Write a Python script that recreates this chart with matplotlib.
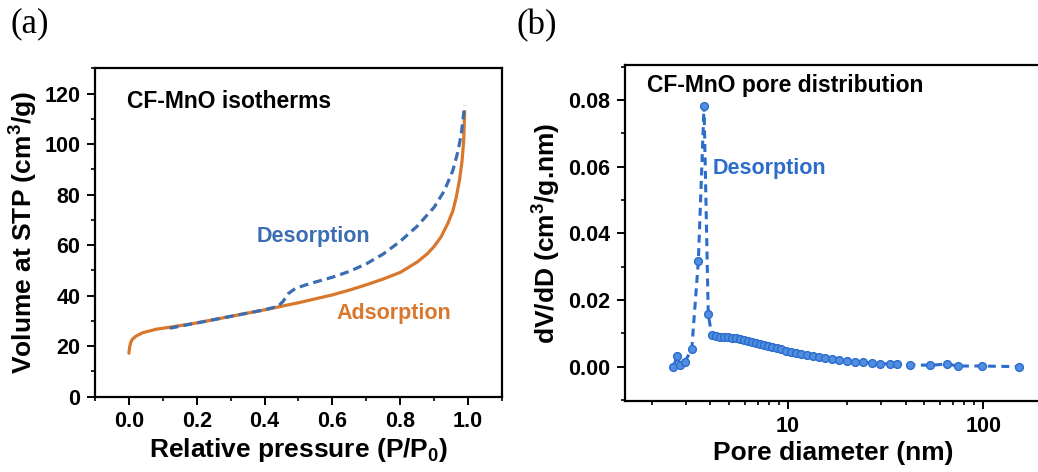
import matplotlib
matplotlib.use("Agg")
import matplotlib.pyplot as plt
from matplotlib.ticker import MultipleLocator, LogLocator, NullFormatter, FixedLocator

plt.rcParams['font.family'] = ['Liberation Sans', 'DejaVu Sans']
plt.rcParams['font.weight'] = 'bold'
plt.rcParams['mathtext.fontset'] = 'custom'
plt.rcParams['mathtext.rm'] = 'Liberation Sans:bold'
plt.rcParams['mathtext.it'] = 'Liberation Sans:bold'
plt.rcParams['mathtext.bf'] = 'Liberation Sans:bold'

# (a) isotherms
ads_p = [0.0, 0.002, 0.005, 0.01, 0.02, 0.04, 0.08, 0.13, 0.2, 0.3, 0.4, 0.5, 0.6, 0.65,
         0.7, 0.75, 0.8, 0.85, 0.88, 0.9, 0.92, 0.94, 0.955, 0.965, 0.975, 0.982, 0.987,
         0.99]
ads_v = [17.2, 19.5, 21.3, 22.7, 23.9, 25.3, 26.7, 27.7, 29.2, 31.8, 34.4, 37.2, 40.3,
         42.2, 44.3, 46.6, 49.2, 53.3, 56.6, 59.5, 63.2, 68.5, 73.5, 78.8, 86.0, 93.0,
         101.0, 112.8]
des_p = [0.12, 0.2, 0.3, 0.4, 0.44, 0.455, 0.47, 0.49, 0.52, 0.55, 0.6, 0.65, 0.7, 0.75,
         0.8, 0.85, 0.9, 0.93, 0.955, 0.97, 0.98, 0.99]
des_v = [27.1, 29.2, 31.8, 34.4, 35.8, 37.8, 40.8, 42.8, 44.2, 45.4, 47.3, 49.6, 52.6,
         56.5, 61.5, 67.5, 75.0, 81.5, 89.5, 97.0, 104.0, 115.4]

# (b) pore size distribution (desorption)
pore_d = [2.58, 2.71, 2.79, 2.96, 3.21, 3.47, 3.71, 3.90, 4.06, 4.27, 4.48, 4.70, 4.92,
          5.16, 5.41, 5.67, 5.95, 6.24, 6.54, 6.85, 7.19, 7.53, 7.90, 8.28, 8.75, 9.24,
          9.76, 10.3, 11.0, 11.7, 12.5, 13.4, 14.4, 15.5, 16.8, 18.3, 20.0, 22.0, 24.2,
          26.8, 29.6, 33.1, 36.1, 42.2, 53.5, 65.1, 74.7, 98.4, 151.8]
pore_v = [0.0, 0.0032, 0.0005, 0.0015, 0.0052, 0.0317, 0.0782, 0.0158, 0.0095, 0.0092,
          0.0090, 0.0089, 0.0088, 0.0087, 0.0085, 0.0083, 0.0081, 0.0078, 0.0075, 0.0072,
          0.0069, 0.0066, 0.0063, 0.0060, 0.0056, 0.0052, 0.0048, 0.0045, 0.0041, 0.0038,
          0.0035, 0.0032, 0.0029, 0.0026, 0.0023, 0.0020, 0.0017, 0.0015, 0.0013, 0.0011,
          0.0009, 0.0008, 0.0007, 0.0006, 0.0004, 0.0008, 0.0002, 0.0002, 0.0]

blue_a = '#3b6db3'
blue_b = '#2c6ccb'
orange = '#d9782c'

fig = plt.figure(figsize=(10.38, 4.72), dpi=100)
ax1 = fig.add_axes([0.0915, 0.1595, 0.3921, 0.6958])
ax2 = fig.add_axes([0.6021, 0.1504, 0.4009, 0.7119])

for ax in (ax1, ax2):
    for s in ax.spines.values():
        s.set_linewidth(1.6)
    ax.tick_params(which='major', direction='out', length=5.5, width=1.4,
                   labelsize=15.5, pad=5)
    ax.tick_params(which='minor', direction='out', length=3, width=1.2)

# panel a
ax1.plot(ads_p, ads_v, color=orange, lw=2.3, solid_capstyle='round',
         solid_joinstyle='round')
ax1.plot(des_p, des_v, color=blue_a, lw=2.3, ls=(0, (2.8, 1.6)))
ax1.set_xlim(-0.1, 1.1)
ax1.set_ylim(0, 130)
ax1.xaxis.set_major_locator(MultipleLocator(0.2))
ax1.xaxis.set_minor_locator(MultipleLocator(0.1))
ax1.yaxis.set_major_locator(MultipleLocator(20))
ax1.yaxis.set_minor_locator(MultipleLocator(10))
ax1.set_xticks([0.0, 0.2, 0.4, 0.6, 0.8, 1.0])
ax1.set_xticklabels(['0.0', '0.2', '0.4', '0.6', '0.8', '1.0'])
ax1.set_xlabel(r'Relative pressure (P/P$_0$)', fontsize=19, fontweight='bold', labelpad=3)
ax1.set_ylabel(r'Volume at STP (cm$^3$/g)', fontsize=19, fontweight='bold', labelpad=3)
ax1.text(0.078, 0.900, 'CF-MnO isotherms', transform=ax1.transAxes, fontsize=16.5,
         fontweight='bold', va='center', ha='left')
ax1.text(0.397, 0.489, 'Desorption', transform=ax1.transAxes, fontsize=15.5,
         fontweight='bold', color=blue_a, va='center', ha='left')
ax1.text(0.594, 0.252, 'Adsorption', transform=ax1.transAxes, fontsize=15.5,
         fontweight='bold', color=orange, va='center', ha='left')

# panel b
ax2.plot(pore_d, pore_v, color=blue_b, lw=2.2, ls=(0, (2.6, 1.8)),
         marker='o', ms=5.6, mfc='#4f8ee0', mec=blue_b, mew=1.0)
ax2.set_xscale('log')
ax2.set_xlim(1.46, 198)
ax2.set_ylim(-0.0103, 0.0905)
ax2.xaxis.set_major_locator(FixedLocator([10, 100]))
ax2.set_xticklabels(['10', '100'])
ax2.xaxis.set_minor_locator(LogLocator(base=10, subs=range(2, 10)))
ax2.xaxis.set_minor_formatter(NullFormatter())
ax2.yaxis.set_major_locator(MultipleLocator(0.02))
ax2.yaxis.set_minor_locator(MultipleLocator(0.01))
ax2.yaxis.set_major_formatter(matplotlib.ticker.FormatStrFormatter('%.2f'))
ax2.set_xlabel('Pore diameter (nm)', fontsize=19, fontweight='bold', labelpad=3)
ax2.set_ylabel(r'dV/dD (cm$^3$/g.nm)', fontsize=19, fontweight='bold', labelpad=4)
ax2.text(0.052, 0.9375, 'CF-MnO pore distribution', transform=ax2.transAxes, fontsize=16.5,
         fontweight='bold', va='center', ha='left')
ax2.text(0.2115, 0.692, 'Desorption', transform=ax2.transAxes, fontsize=15.5,
         fontweight='bold', color=blue_b, va='center', ha='left')

fig.text(10 / 1038, 1 - 24 / 472, '(a)', family=['Liberation Serif', 'DejaVu Serif'],
         fontsize=25, fontweight='normal', va='center', ha='left')
fig.text(517 / 1038, 1 - 26 / 472, '(b)', family=['Liberation Serif', 'DejaVu Serif'],
         fontsize=25, fontweight='normal', va='center', ha='left')

fig.savefig('out.png', dpi=100)
